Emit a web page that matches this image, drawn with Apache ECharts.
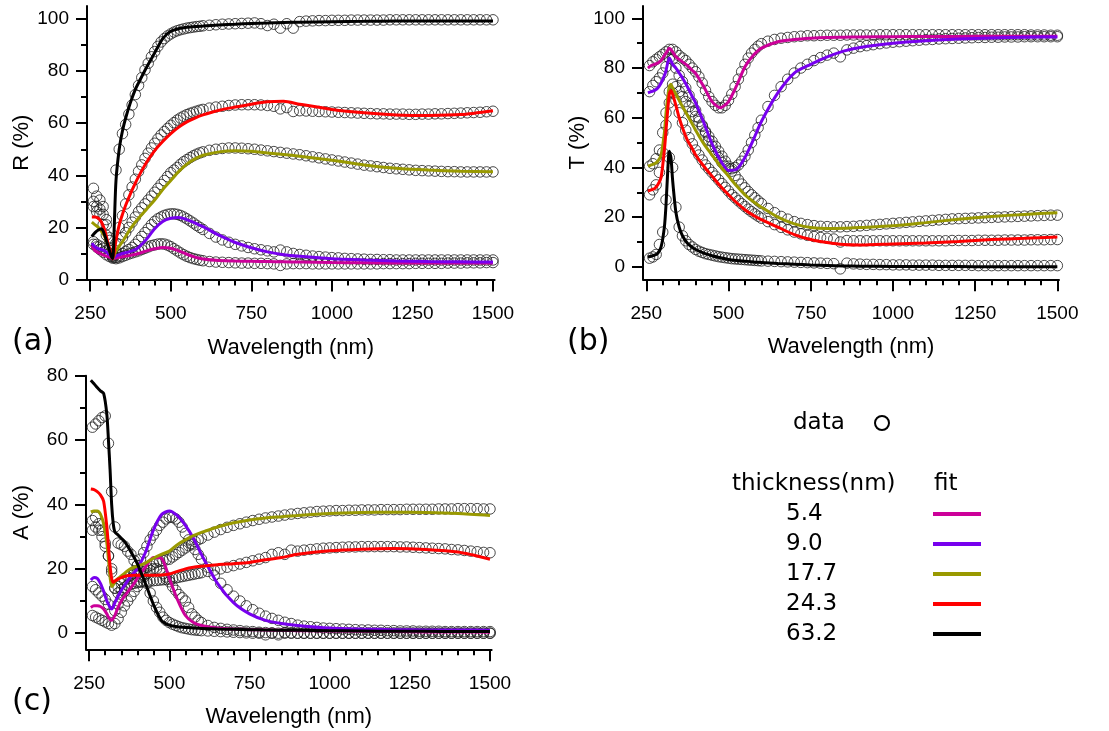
<!DOCTYPE html>
<html><head><meta charset="utf-8">
<script src="https://cdn.jsdelivr.net/npm/echarts@6/dist/echarts.min.js"></script>
<style>html,body{margin:0;padding:0;background:#fff;}#c{width:1109px;height:731px;}</style>
</head><body><div id="c"></div>
<script>
// ---------- data ----------
const THICKNESS = ['5.4', '9.0', '17.7', '24.3', '63.2'];
const X_TICKS = [250, 500, 750, 1000, 1250, 1500];
const X_MINOR = [300, 350, 400, 450, 550, 600, 650, 700, 800, 850, 900, 950, 1050, 1100, 1150, 1200, 1300, 1350, 1400, 1450];
const Y_TICKS_RT = [0, 20, 40, 60, 80, 100];
const Y_MINOR_RT = [10, 30, 50, 70, 90];
const Y_TICKS_A = [0, 20, 40, 60, 80];
const Y_MINOR_A = [10, 30, 50, 70];

const WL_DATA = [260,270,280,290,300,310,320,330,340,350, 360,370,380,390,400,410,420,430,440,450,
  460,470,480,490,500,510,520,530,540,550, 560,570,580,590,600, 620,640,660,680,700,
  720,740,760,780,800,820,840,860,880,900, 920,940,960,980,1000,1020,1040,1060,1080,1100,
  1120,1140,1160,1180,1200,1220,1240,1260,1280,1300, 1320,1340,1360,1380,1400,1420,1440,1460,1480,1500];
const WL_FIT = [255,265,275,285,295,305,310,315,320,325,330, 340,350,360,375,390,400,
  425,450,475,500,525,550,575,600, 650,700,750,800,850,900, 1000,1100,1200,1300,1400,1500];

// Reflectance R (%) - measured
const R_DATA_54 = [13.5,12.5,11.5,10.5,9.5,8.8,8.2,8.0,8.3,8.8, 9.3,9.8,10.2,10.6,11.0,11.5,12.0,12.5,13.0,13.3,
  13.6,13.7,13.6,13.2,12.6,11.8,11.0,10.2,9.5,8.9, 8.4,8.0,7.7,7.4,7.2, 6.9,6.7,6.6,6.5,6.4,
  6.3,6.3,6.2,6.2,6.1,6.0,5.4,6.0,6.1,6.1, 6.1,6.0,6.0,6.0,6.0,6.0,6.0,6.0,6.0,6.0,
  6.0,6.0,6.1,6.1,6.1,6.1,6.1,6.2,6.2,6.2, 6.2,6.2,6.3,6.3,6.3,6.4,6.4,6.4,6.5,6.5];
const R_DATA_90 = [14.5,13.5,12.8,12.0,11.0,10.0,9.0,8.5,9.0,10.0, 10.8,11.5,12.3,13.5,15.0,16.5,18.0,19.5,21.0,22.3,
  23.3,24.0,24.6,25.0,25.2,25.2,25.0,24.6,24.0,23.3, 22.5,21.7,20.8,20.0,19.2, 17.7,16.3,15.2,14.3,13.5,
  12.9,12.3,11.8,11.4,11.0,10.6,11.3,10.6,10.0,9.6, 9.3,9.0,8.8,8.6,8.4,8.3,8.1,8.0,7.9,7.8,
  7.7,7.7,7.6,7.6,7.5,7.5,7.5,7.5,7.5,7.5, 7.5,7.5,7.5,7.5,7.5,7.5,7.5,7.5,7.5,7.5];
const R_DATA_177 = [28,26,25,21,17,12,8.5,11,13.5,16, 18,20,22,24,26,27.5,29,30.5,32,33.5,
  35,36.5,38,39.5,41,42,43,44.2,45.2,46, 46.8,47.5,48.1,48.6,49, 49.6,50,50.3,50.5,50.5,
  50.4,50.2,50,49.7,49.4,49.1,48.8,48.5,48.2,47.9, 47.5,47.1,46.7,46.3,45.9,45.5,45.1,44.7,44.3,43.9,
  43.6,43.3,43,42.7,42.5,42.3,42.1,41.9,41.8,41.7, 41.6,41.5,41.4,41.4,41.3,41.3,41.3,41.3,41.3,41.3];
const R_DATA_243 = [30,28,27,25,21,15,9.5,14,20,24.5, 29,32.5,35.5,38.5,41.5,44,46.5,48.5,50.5,52.3,
  54,55.5,56.8,58,59.2,60.2,61.2,62,62.7,63.3, 63.8,64.2,64.6,65,65.3, 65.8,66.2,66.5,66.8,67,
  67.1,67.1,67.1,67,66.8,66.5,65.5,66,64.5,64.8, 64.7,64.6,64.5,64.4,64.3,64.2,64.1,64,63.9,63.8,
  63.7,63.6,63.6,63.5,63.5,63.5,63.4,63.4,63.5,63.5, 63.6,63.6,63.7,63.8,63.9,64,64.1,64.2,64.4,64.6];
const R_DATA_632 = [35,32,30.5,28,23,16,9,42,50,56, 59.5,63.5,67,71,74.5,77.5,80.5,83,85.5,87.5,
  89.5,91.2,92.5,93.5,94.3,95,95.5,95.9,96.2,96.5, 96.7,96.9,97.1,97.2,97.4, 97.6,97.8,98,98.1,98.2,
  98.3,98.4,98.5,98.2,97.5,98,96.5,98.2,96.5,99, 99.2,99.3,99.4,99.4,99.5,99.5,99.5,99.6,99.6,99.6,
  99.6,99.6,99.6,99.7,99.7,99.7,99.7,99.7,99.7,99.7, 99.7,99.7,99.7,99.7,99.7,99.7,99.7,99.7,99.7,99.7];

// Reflectance R (%) - fit
const R_FIT_54 = [13,11,10.3,9.7,9.2,8.8,8.6,8.3,8,8.1,8.3, 8.5,8.7,9,9.3,9.7,10,
  11,11.8,12.3,12,11,9.7,8.6,7.9, 7.3,7.1,7,6.9,6.8,6.7, 6.5,6.4,6.3,6.3,6.3,6.3];
const R_FIT_90 = [14,12.5,11.8,11.5,11,10,9.5,8.8,8.2,8.5,9, 9.5,10,10.3,10.8,11.5,12.3,
  15.5,19.5,22.3,23.5,23.8,23,21.7,20.3, 17,14.2,12.2,10.6,9.5,8.9, 8,7.5,7.1,6.9,6.8,6.7];
const R_FIT_177 = [22,21,20,18.5,16.5,13,11,9,8,9.5,11, 12.8,14.5,16.5,19.5,22,23.5,
  27,30.5,34.5,38,41.5,44.3,46.3,47.7, 49,49.4,49.2,48.6,48,47.3, 45.8,44,42.7,42,41.6,41.4];
const R_FIT_243 = [24,24,23.5,22,19,14,12,9.5,8,11,15, 21,25,28.5,33,37,39.5,
  45,49.5,53,56,58.5,60.5,62,63.2, 65,66.2,67.3,68.2,68.4,67.3, 65.3,64,63.2,63,63.3,64.8];
const R_FIT_632 = [16.5,18,19,19.5,17,13,11,9,8,22,38, 50,57,62,68,73,75.5,
  81.5,87,92.5,95.3,96.3,96.8,97.1,97.3, 97.7,98,98.3,98.5,98.7,98.8, 99,99.1,99.2,99.2,99.2,99.2];

// Transmittance T (%) - measured
const T_DATA_54 = [81,82.5,83.5,84.5,85.5,86.5,87.5,87.5,86.5,85, 84,83,81.5,80,78.5,76.5,74,71,68.5,66.5,
  65,64,64,65,67,69.5,72.5,75.5,78.5,81.5, 84,86,87.5,88.8,89.8, 90.8,91.5,92,92.3,92.6,
  92.8,93,93,93.1,93.2,93.2,93.2,93.3,93.3,93.3, 93.3,93.3,93.4,93.4,93.4,93.4,93.4,93.4,93.4,93.4,
  93.4,93.4,93.4,93.4,93.4,93.4,93.4,93.4,93.4,93.4, 93.4,93.4,93.4,93.4,93.4,93.3,93.3,93.3,93.2,93.2];
const T_DATA_90 = [70.5,73,74.5,76,78,80.5,84,83.5,80,77, 74.5,72,69,66,63,60,57,54,51,48.5,
  46,44,42,40.5,39.5,39.5,40,41,42.5,44.5, 47,50,53,56,59, 64.5,69,72.5,75.5,78,
  80,81.5,83,84.2,85.2,86,84.5,87.3,88,88.6, 89,89.4,89.8,90.1,90.4,90.6,90.8,91,91.2,91.4,
  91.5,91.7,91.8,91.9,92,92.1,92.2,92.3,92.3,92.4, 92.4,92.5,92.5,92.5,92.6,92.6,92.6,92.6,92.6,92.6];
const T_DATA_177 = [40.5,41.5,43.5,47,54,62,70.5,73.5,72.5,70.5, 68.5,66.5,64.5,62.5,60.5,58.5,56.5,54.5,52.5,50.5,
  48.5,46.5,44.5,42.5,40.5,38.5,36.8,35,33.3,31.8, 30.3,29,27.8,26.6,25.5, 23.5,21.8,20.3,19.2,18.2,
  17.5,17,16.6,16.3,16.2,16.1,16.1,16.2,16.3,16.5, 16.7,16.9,17.1,17.3,17.5,17.7,17.9,18.1,18.3,18.5,
  18.7,18.9,19.1,19.3,19.4,19.5,19.6,19.7,19.8,19.9, 20,20.1,20.2,20.3,20.4,20.5,20.6,20.7,20.8,20.8];
const T_DATA_243 = [29,31,33,38,46,57,66,70,67,62, 58,55,52,49.5,47,45,43,41,39.5,38,
  36.5,35,33.5,32,30.5,29,27.8,26.6,25.4,24.3, 23.2,22.2,21.3,20.4,19.6, 18.2,17,15.9,14.9,14,
  13.3,12.7,12.2,11.8,11.5,11.2,10,10.6,10.5,10.5, 10.5,10.5,10.5,10.5,10.5,10.5,10.5,10.5,10.5,10.5,
  10.5,10.5,10.5,10.6,10.6,10.6,10.6,10.7,10.7,10.7, 10.7,10.8,10.8,10.8,10.8,10.9,10.9,10.9,11,11];
const T_DATA_632 = [3.5,4,5,9,14,27,44,40,24,16, 12.5,10.5,9,8,7,6.3,5.8,5.3,5,4.7,
  4.4,4.1,3.9,3.7,3.5,3.3,3.2,3.1,3,2.9, 2.8,2.7,2.6,2.5,2.4, 2.3,2.2,2.1,2,1.9,
  1.8,1.7,1.6,1.5,1.4,1.3,-0.8,1.5,1.2,1.1, 1,1,0.9,0.9,0.8,0.8,0.8,0.7,0.7,0.7,
  0.7,0.6,0.6,0.6,0.6,0.6,0.6,0.5,0.5,0.5, 0.5,0.5,0.5,0.5,0.5,0.5,0.5,0.5,0.5,0.5];

// Transmittance T (%) - fit
const T_FIT_54 = [80,81,81.5,82,83,85,86,87,88,87.5,86.5, 84.5,83.5,82.5,81,79,77.9,
  72.5,66.5,64,66.5,73,80.5,85,88, 90.6,91.5,92,92.3,92.4,92.5, 92.6,92.7,92.7,92.8,92.8,92.8];
const T_FIT_90 = [70,70.5,71,72,74,77,79,82,84,83,81.5, 80,78,76,72.5,68.5,66,
  58,49.5,43,38.8,39.3,44,51,58.5, 70,78,81.5,84.5,86.8,88.3, 90,91,91.7,92.1,92.4,92.5];
const T_FIT_177 = [40.5,41,41.5,42.5,45,54,62,68,72.5,73.5,72, 69.5,67,64.5,61,57.5,55,
  49.5,45,40.5,36.5,32.5,29,26.3,24, 20,17.3,15.8,15.4,15.5,15.8, 16.5,17.8,19.2,20.3,21.1,21.8];
const T_FIT_243 = [30.5,31,31.5,33,36,47,55,63,69.5,71,69.5, 65,60,56,51,47.5,45,
  40.5,36.5,32.5,29,25.8,23,20.8,19, 16,13,11,9.8,9,8.8, 9.2,9.6,10.2,11,11.5,12];
const T_FIT_632 = [4,4.3,4.7,5.5,8,16,25,38,46.5,44,35, 22,16,12.5,9.5,7.8,7,
  5.5,4.5,3.7,3,2.6,2.3,2,1.8, 1.4,1.1,0.8,0.6,0.4,0.3, 0.2,0.1,0.1,0,0,0];

// Absorptance A (%) - measured
const A_DATA_54 = [5.5,5,4.5,4,3.5,3,2.5,3,4.5,6.5, 8.5,10,11.5,13,14.5,16,17.5,18.5,19.5,20,
  20,19.5,18.5,17.5,16,14.5,13.3,12,11,10, 8,6,5,4,3.3, 2.4,1.8,1.5,1.2,1,
  0.8,0.6,0.5,0.3,0.2,0.1,-0.5,0.2,0.1,0, 0,0,0,0,0,0,0,0,0,0,
  0,0,0,0,0,0,0,0,0,0, 0,0,0,0,0,0,0,0,0,0];
const A_DATA_90 = [14.5,13.5,12.5,11.5,10.5,9,6.5,7,9,11, 13,15,17,19,21,23,25,27,29,30.5,
  32,33.5,34.5,35.5,36,36,35.5,34.5,33,31, 29,27.5,26,24.5,23, 20.5,18,15.5,13.5,11.5,
  10,8.5,7.3,6.2,5.3,4.6,4,3.4,3,2.5, 2.2,2,1.8,1.6,1.5,1.4,1.3,1.2,1.1,1,
  1,0.9,0.9,0.8,0.8,0.7,0.7,0.7,0.6,0.6, 0.6,0.6,0.5,0.5,0.5,0.5,0.5,0.5,0.5,0.5];
const A_DATA_177 = [35,36,34,32,28,24,19,14,14.5,15.5, 16.5,17.5,18,18.5,19,19.5,20,20.5,21,21.5,
  22,22.3,22.6,22.8,23,23.7,24.4,25.1,25.8,26.5, 27.2,27.9,28.5,29,29.5, 30.5,31.4,32.2,32.9,33.5,
  34,34.5,35,35.4,35.8,36.1,36.4,36.7,37,37.2, 37.4,37.6,37.8,37.9,38,38.1,38.1,38.2,38.2,38.3,
  38.3,38.3,38.4,38.4,38.4,38.4,38.5,38.5,38.5,38.5, 38.5,38.6,38.6,38.6,38.7,38.7,38.7,38.7,38.6,38.6];
const A_DATA_243 = [32,33,32,30,27,24,20,14,12.5,13.5, 14.2,14.8,15.2,15.5,15.7,15.9,16,16.1,16.2,16.3,
  16.4,16.5,16.6,16.7,16.8,17,17.2,17.4,17.6,17.8, 18,18.2,18.4,18.6,18.8, 19.2,19.6,20,20.5,21,
  21.5,22,22.5,23,23.5,24.5,25,24.5,25.8,25.5, 25.8,26,26.2,26.4,26.5,26.6,26.7,26.8,26.8,26.9,
  26.9,26.9,26.9,26.9,26.9,26.8,26.8,26.7,26.6,26.5, 26.4,26.3,26.2,26,25.9,25.7,25.5,25.3,25.1,25];
const A_DATA_632 = [64,65,66,67,67.5,59,44,33,28,27.5, 27,25.5,24.5,22.6,21,19.5,18,15.5,12.5,10,
  8,6.5,5,4,3.3,2.8,2.4,2,1.7,1.5, 1.3,1.1,1,0.9,0.8, 0.7,0.6,0.5,0.4,0.3,
  0.2,0.1,0,0,-0.5,0,0,0,0,0, 0,0,0,0,0,0,0,0,0,0,
  0,0,0,0,0,0,0,0,0,0, 0,0,0,0,0,0,0,0,0,0];

// Absorptance A (%) - fit
const A_FIT_54 = [8,8.5,8.5,8.3,7.5,6,5,4.3,4,4.6,5.5, 8,10,11.5,13.5,15.5,17,
  20.5,23.5,23.3,17,10.5,5.5,3.3,2.4, 1.6,1.3,1.1,1,0.9,0.8, 0.7,0.6,0.5,0.4,0.4,0.3];
const A_FIT_90 = [16.5,17.3,17,15.5,13,10,9,8,7.5,8.2,9.5, 11.5,13.3,14.8,17,18.8,20,
  25,32,36.8,38,36.5,33.5,29.5,24.5, 15.5,9.5,6,4,3,2.4, 1.6,1.3,1.1,1,1,0.9];
const A_FIT_177 = [37.7,38,38,37,34,28,23,17.5,14.5,15,16, 17,17.8,18.6,19.8,20.5,20.8,
  21.8,23.3,24.5,25.5,27.5,29,30.3,31.3, 33,34.3,35.2,35.8,36.2,36.6, 37.2,37.5,37.6,37.5,37.2,36.6];
const A_FIT_243 = [44.8,44.6,44,43,41,33,27,21,17,15.8,16.2, 16.8,17.3,17.6,17.9,18,18,
  18,18,18.1,18.4,19.2,20,20.5,20.8, 21.3,21.6,22,22.8,23.5,24.5, 25.6,26.1,26.3,26,25.2,23];
const A_FIT_632 = [78.6,77.5,76.3,75.3,74.5,68,60,51,40,34,31.5, 30.5,29.5,28.5,26.2,23.5,21.6,
  15.5,9,4,2.5,2,1.8,1.6,1.5, 1.3,1.2,1.1,1,0.9,0.9, 0.8,0.7,0.6,0.6,0.5,0.5];

// ---------- styling ----------
const COLORS = ['#cc0099', '#7700ee', '#999900', '#ff0000', '#000000'];
const AXIS_FONT = '"Liberation Sans", Arial, sans-serif';
const LEG_FONT = '"DejaVu Sans", sans-serif';

const PANELS = [
  { grid: { left: 87, top: 6, width: 407.6, height: 273.5 }, ymin: 0, ymax: 105,
    yt: Y_TICKS_RT, ym: Y_MINOR_RT, name: 'R (%)',
    data: [R_DATA_54, R_DATA_90, R_DATA_177, R_DATA_243, R_DATA_632],
    fit: [R_FIT_54, R_FIT_90, R_FIT_177, R_FIT_243, R_FIT_632] },
  { grid: { left: 643, top: 5.9, width: 416, height: 273.4 }, ymin: -5, ymax: 105,
    yt: Y_TICKS_RT, ym: Y_MINOR_RT, name: 'T (%)',
    data: [T_DATA_54, T_DATA_90, T_DATA_177, T_DATA_243, T_DATA_632],
    fit: [T_FIT_54, T_FIT_90, T_FIT_177, T_FIT_243, T_FIT_632] },
  { grid: { left: 86, top: 375.7, width: 405.6, height: 273.6 }, ymin: -5, ymax: 80,
    yt: Y_TICKS_A, ym: Y_MINOR_A, name: 'A (%)',
    data: [A_DATA_54, A_DATA_90, A_DATA_177, A_DATA_243, A_DATA_632],
    fit: [A_FIT_54, A_FIT_90, A_FIT_177, A_FIT_243, A_FIT_632] }
];

const grids = [], xAxes = [], yAxes = [], series = [];
const lineSt = { color: '#000', width: 2 };
PANELS.forEach((p, i) => {
  grids.push(Object.assign({ outerBoundsMode: 'none', containLabel: false }, p.grid));
  // major x
  xAxes.push({ type: 'value', gridIndex: i, min: 240, max: 1505, position: 'bottom',
    axisLine: { show: true, onZero: false, lineStyle: lineSt },
    axisTick: { show: true, customValues: X_TICKS, length: 12, lineStyle: lineSt },
    axisLabel: { customValues: X_TICKS, formatter: v => String(v), margin: 25, fontSize: 19,
      fontFamily: AXIS_FONT, color: '#000' },
    splitLine: { show: false },
    name: 'Wavelength (nm)', nameLocation: 'middle', nameGap: 57,
    nameTextStyle: { fontSize: 22, fontFamily: AXIS_FONT, color: '#000' } });
  // minor x
  xAxes.push({ type: 'value', gridIndex: i, min: 240, max: 1505, position: 'bottom',
    axisLine: { show: false, onZero: false },
    axisTick: { show: true, customValues: X_MINOR, length: 6, lineStyle: lineSt },
    axisLabel: { show: false }, splitLine: { show: false } });
  // major y
  yAxes.push({ type: 'value', gridIndex: i, min: p.ymin, max: p.ymax, position: 'left',
    axisLine: { show: true, onZero: false, lineStyle: lineSt },
    axisTick: { show: true, customValues: p.yt, length: 11, lineStyle: lineSt },
    axisLabel: { customValues: p.yt, formatter: v => String(v), margin: 18, fontSize: 19,
      fontFamily: AXIS_FONT, color: '#000' },
    splitLine: { show: false },
    name: p.name, nameLocation: 'middle', nameGap: 53,
    nameTextStyle: { fontSize: 22, fontFamily: AXIS_FONT, color: '#000' } });
  // minor y
  yAxes.push({ type: 'value', gridIndex: i, min: p.ymin, max: p.ymax, position: 'left',
    axisLine: { show: false, onZero: false },
    axisTick: { show: true, customValues: p.ym, length: 6, lineStyle: lineSt },
    axisLabel: { show: false }, splitLine: { show: false } });

  p.data.forEach((arr) => {
    series.push({ type: 'scatter', xAxisIndex: 2 * i, yAxisIndex: 2 * i,
      data: WL_DATA.map((w, j) => [w, arr[j]]),
      symbol: 'circle', symbolSize: 10.5, silent: true, z: 2,
      itemStyle: { color: 'rgba(0,0,0,0)', borderColor: '#1e1e1e', borderWidth: 1 } });
  });
  p.fit.forEach((arr, k) => {
    series.push({ type: 'line', xAxisIndex: 2 * i, yAxisIndex: 2 * i,
      data: WL_FIT.map((w, j) => [w, arr[j]]),
      showSymbol: false, smooth: 0.25, silent: true, z: 3 + k * 0.01,
      lineStyle: { color: COLORS[k], width: 3 } });
  });
});

// ---------- legend / panel labels ----------
const graphic = [];
function txt(x, y, s, size, font) {
  graphic.push({ type: 'text', x: x, y: y, silent: true,
    style: { text: s, font: size + 'px ' + font, fill: '#000', align: 'left', verticalAlign: 'middle' } });
}
txt(12, 342, '(a)', 30, LEG_FONT);
txt(567, 342, '(b)', 30, LEG_FONT);
txt(12, 702, '(c)', 30, LEG_FONT);
txt(793, 423, 'data', 23, LEG_FONT);
graphic.push({ type: 'circle', silent: true, shape: { cx: 882, cy: 423, r: 7 },
  style: { fill: 'none', stroke: '#000', lineWidth: 2 } });
txt(732, 484, 'thickness(nm)', 23, LEG_FONT);
txt(934, 484, 'fit', 23, LEG_FONT);
THICKNESS.forEach((t, k) => {
  const y = 514 + 30 * k;
  txt(786, y, t, 23, LEG_FONT);
  graphic.push({ type: 'line', silent: true, shape: { x1: 933, y1: y, x2: 981, y2: y },
    style: { stroke: COLORS[k], lineWidth: 4 } });
});

const chart = echarts.init(document.getElementById('c'), null, { renderer: 'canvas' });
chart.setOption({
  animation: false,
  backgroundColor: '#fff',
  grid: grids, xAxis: xAxes, yAxis: yAxes, series: series, graphic: graphic
});
</script></body></html>
